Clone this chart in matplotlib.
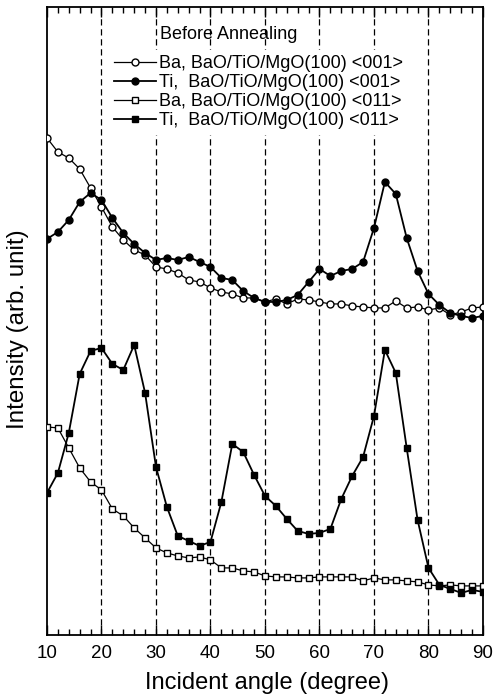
import numpy as np
import matplotlib
matplotlib.use('Agg')
import matplotlib.pyplot as plt
from matplotlib.ticker import MultipleLocator

plt.rcParams['font.family'] = ['Liberation Sans', 'DejaVu Sans']

# incident angle (degree), 2 degree steps
angle = np.arange(10, 91, 2)

# intensities (arb. unit)
ba_001 = [497, 483, 477, 466, 447, 428, 408, 395, 385, 380, 368, 366, 362, 355,
          353, 347, 343, 341, 337, 337, 333, 336, 331, 336, 335, 333, 331, 331,
          329, 328, 327, 327, 334, 327, 328, 325, 327, 320, 323, 327, 328]
ti_001 = [396, 403, 415, 433, 442, 435, 417, 402, 391, 382, 375, 377, 375, 378,
          373, 368, 357, 355, 344, 337, 333, 333, 335, 340, 353, 366, 359, 364,
          366, 373, 407, 453, 441, 397, 364, 341, 330, 322, 319, 317, 319]
ba_011 = [208, 207, 187, 167, 153, 145, 126, 119, 107, 97, 87, 82, 79, 77,
          78, 75, 67, 67, 64, 63, 59, 58, 58, 57, 57, 58, 58, 58,
          58, 54, 57, 55, 55, 54, 53, 50, 49, 50, 49, 49, 49]
ti_011 = [142, 162, 202, 261, 284, 287, 271, 265, 290, 242, 168, 128, 99, 94,
          89, 93, 133, 191, 183, 160, 139, 129, 116, 104, 101, 102, 106, 136,
          159, 178, 219, 285, 262, 187, 115, 67, 50, 46, 42, 45, 43]

labels = ['Ba, BaO/TiO/MgO(100) <001>',
          'Ti,  BaO/TiO/MgO(100) <001>',
          'Ba, BaO/TiO/MgO(100) <011>',
          'Ti,  BaO/TiO/MgO(100) <011>']

fig = plt.figure(figsize=(4.93, 7.0), dpi=100)
ax = fig.add_axes([0.0953, 0.093, 0.8844, 0.897])

for x in range(20, 90, 10):
    ax.axvline(x, color='black', lw=0.9, ls=(0, (5, 3)), zorder=1)

ms = 5
ax.plot(angle, ba_001, '-o', color='black', mfc='white', mec='black', ms=ms, lw=0.9, label=labels[0], zorder=3)
ax.plot(angle, ti_001, '-o', color='black', mfc='black', ms=ms, lw=1.3, label=labels[1], zorder=3)
ax.plot(angle, ba_011, '-s', color='black', mfc='white', mec='black', ms=ms, lw=0.9, label=labels[2], zorder=3)
ax.plot(angle, ti_011, '-s', color='black', mfc='black', ms=ms, lw=1.3, label=labels[3], zorder=3)

ax.set_xlim(10, 90)
ax.set_ylim(0, 628)
ax.xaxis.set_major_locator(MultipleLocator(10))
ax.xaxis.set_minor_locator(MultipleLocator(2))
ax.tick_params(axis='x', which='both', direction='in', top=True, bottom=True, labelsize=13.5, pad=7)
ax.tick_params(axis='x', which='major', length=7, width=1)
ax.tick_params(axis='x', which='minor', length=4, width=1)
ax.set_yticks([])
for s in ax.spines.values():
    s.set_linewidth(1.3)

ax.set_xlabel('Incident angle (degree)', fontsize=17, va='center')
ax.xaxis.set_label_coords(0.505, -0.076)
ax.set_ylabel('Intensity (arb. unit)', fontsize=17.4, va='center')
ax.yaxis.set_label_coords(-0.066, 0.487)

ax.text(43.4, 600, 'Before Annealing', ha='center', va='center', fontsize=13, zorder=5)
leg = ax.legend(loc='upper left', bbox_to_anchor=(0.142, 0.932), fontsize=13,
                handlelength=2.3, handletextpad=0.15, labelspacing=0.11,
                borderpad=0.3, borderaxespad=0, frameon=True, fancybox=False, framealpha=1,
                edgecolor='white', facecolor='white')
leg.set_zorder(4)

fig.savefig('out.png', dpi=100)
